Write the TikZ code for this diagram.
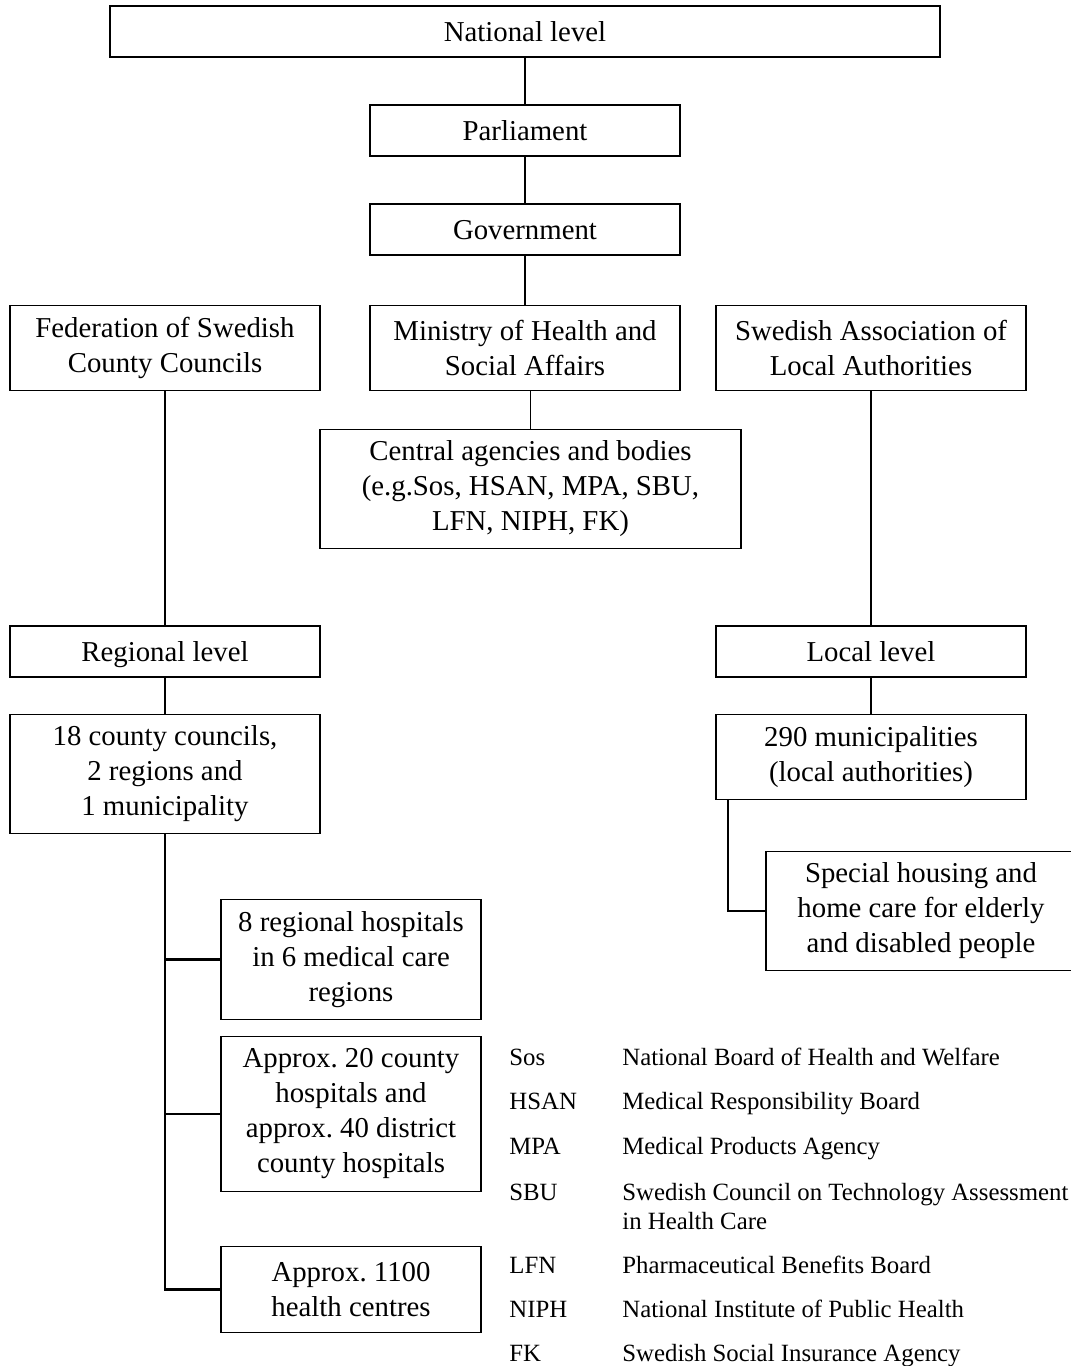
\documentclass[tikz,border=0pt]{standalone}
\usepackage{fontspec}
\setmainfont{Liberation Serif}
\usepackage{tikz}
\usetikzlibrary{positioning,calc}
\frenchspacing

\begin{document}
\begin{tikzpicture}[
  x=0.5pt, y=-0.5pt,
  box/.style={
    draw, line width=0.9pt, align=center, inner sep=2pt,
    minimum width=155pt, minimum height=25.5pt,
    font=\fontsize{14.4}{17.5}\selectfont
  },
  single/.style={box, text height=12pt, text depth=2.5pt},
  smallbox/.style={box, minimum width=130pt},
  link/.style={line width=0.9pt},
  trunk/.style={line width=1.4pt},
  abbr/.style={anchor=base west, inner sep=0pt, font=\fontsize{12.4}{14.5}\selectfont},
  desc/.style={abbr, align=left}
]
\useasboundingbox (0,0) rectangle (1071,1366);

% national level
\node[single, minimum width=415pt] (national) at (525,31.5) {National level};
\node[single] (parliament) at (525,130.5) {Parliament};
\node[single] (government) at (525,229.5) {Government};
\node[box, minimum height=42.5pt] (federation) at (165,348) {Federation of Swedish\\ County Councils};
\node[box, minimum height=42.5pt] (ministry) at (525,348) {Ministry of Health and\\ Social Affairs};
\node[box, minimum height=42.5pt] (assoc) at (871,348) {Swedish Association of\\ Local Authorities};
\node[box, minimum width=210.5pt, minimum height=59.5pt] (central) at (530.5,489)
  {Central agencies and bodies\\ (e.g.Sos, HSAN, MPA, SBU,\\ LFN, NIPH, FK)};

% regional and local level
\node[single] (regional) at (165,651.5) {Regional level};
\node[single] (local) at (871,651.5) {Local level};
\node[box, minimum height=59.5pt] (counties) at (165,774) {18 county councils,\\ 2 regions and\\ 1 municipality};
\node[box, minimum height=42.5pt] (municip) at (871,757) {290 municipalities\\ (local authorities)};
\node[box, minimum height=59.5pt] (special) at (921,911) {Special housing and\\ home care for elderly\\ and disabled people};

\node[smallbox, minimum height=60pt] (reghosp) at (351,959.5) {8 regional hospitals\\ in 6 medical care\\ regions};
\node[smallbox, minimum height=77.5pt] (countyhosp) at (351,1114) {Approx. 20 county\\ hospitals and\\ approx. 40 district\\ county hospitals};
\node[smallbox, minimum height=43pt] (centres) at (351,1289.5) {Approx. 1100\\ health centres};

% connectors
\draw[link] (national) -- (parliament);
\draw[link] (parliament) -- (government);
\draw[link] (government) -- (ministry);
\draw[link] (ministry.south -| central.north) -- (central.north);
\draw[link] (federation) -- (regional);
\draw[link] (assoc) -- (local);
\draw[link] (regional) -- (counties);
\draw[link] (local) -- (municip);
\draw[link] ([xshift=6.5pt]municip.south west) |- (special.west);
\draw[trunk] (counties.south) |- (centres.west);
\draw[trunk] (counties.south |- reghosp.west) -- (reghosp.west);
\draw[trunk] (counties.south |- countyhosp.west) -- (countyhosp.west);

% abbreviations
\node[abbr] (sos) at (509,1065) {Sos};
\node[abbr] (hsan) at (509,1109) {HSAN};
\node[abbr] (mpa) at (509,1154) {MPA};
\node[abbr] (sbu) at (509,1200) {SBU};
\node[abbr] (lfn) at (509,1273) {LFN};
\node[abbr] (niph) at (509,1317) {NIPH};
\node[abbr] (fk) at (509,1361) {FK};
\node[desc] (sosdesc) at (622,1065) {National Board of Health and Welfare};
\node[desc] (hsandesc) at (622,1109) {Medical Responsibility Board};
\node[desc] (mpadesc) at (622,1154) {Medical Products Agency};
\node[desc] (sbudesc) at (622,1229) {Swedish Council on Technology Assessment\\ in Health Care};
\node[desc] (lfndesc) at (622,1273) {Pharmaceutical Benefits Board};
\node[desc] (niphdesc) at (622,1317) {National Institute of Public Health};
\node[desc] (fkdesc) at (622,1361) {Swedish Social Insurance Agency};

\end{tikzpicture}
\end{document}
